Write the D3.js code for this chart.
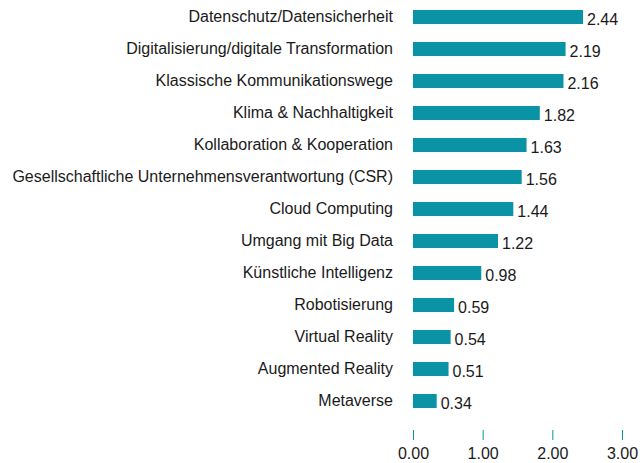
<!DOCTYPE html>
<html>
<head>
<meta charset="utf-8">
<script src="https://cdn.jsdelivr.net/npm/d3@7"></script>
<style>
  body { margin: 0; background: #fff; }
  text { font-family: "Liberation Sans", Arial, Helvetica, sans-serif; }
</style>
</head>
<body>
<div id="chart"></div>
<script>
const categories = [
  'Datenschutz/Datensicherheit',
  'Digitalisierung/digitale Transformation',
  'Klassische Kommunikationswege',
  'Klima & Nachhaltigkeit',
  'Kollaboration & Kooperation',
  'Gesellschaftliche Unternehmensverantwortung (CSR)',
  'Cloud Computing',
  'Umgang mit Big Data',
  'Künstliche Intelligenz',
  'Robotisierung',
  'Virtual Reality',
  'Augmented Reality',
  'Metaverse'
]
const values = [2.44, 2.19, 2.16, 1.82, 1.63, 1.56, 1.44, 1.22, 0.98, 0.59, 0.54, 0.51, 0.34]
const tickValues = [0, 1, 2, 3]

const fullWidth = 643,
  fullHeight = 463

const svg = d3.select('#chart')
  .append('svg')
    .attr('width', fullWidth)
    .attr('height', fullHeight)

const data = categories.map((c, i) => ({ name: c, value: values[i] }))

const xScale = d3.scaleLinear()
  .domain([0, 3])
  .range([413, 622])

const yScale = d3.scaleBand()
  .domain(categories)
  .range([1, 417])
  .paddingInner(0.5625)
  .paddingOuter(0.28125)

// bars
svg.selectAll('.bar')
  .data(data)
  .enter()
  .append('rect')
  .attr('class', 'bar')
  .attr('x', xScale(0))
  .attr('y', d => yScale(d.name))
  .attr('width', d => xScale(d.value) - xScale(0))
  .attr('height', yScale.bandwidth())
  .style('fill', '#0a93a5')

// value labels
svg.selectAll('.val')
  .data(data)
  .enter()
  .append('text')
  .attr('class', 'val')
  .attr('x', d => xScale(d.value) + 4)
  .attr('y', d => yScale(d.name) + yScale.bandwidth() / 2 + 2)
  .attr('dy', '0.35em')
  .style('font-size', '16px')
  .style('fill', '#1a1a1a')
  .text(d => d.value.toFixed(2))

// category labels
svg.selectAll('.cat')
  .data(data)
  .enter()
  .append('text')
  .attr('class', 'cat')
  .attr('x', xScale(0) - 20)
  .attr('y', d => yScale(d.name) + yScale.bandwidth() / 2 - 1)
  .attr('dy', '0.35em')
  .attr('text-anchor', 'end')
  .style('font-size', '16px')
  .style('fill', '#1a1a1a')
  .text(d => d.name)

// x axis
const axis = svg.append('g')
  .attr('transform', 'translate(0, 430)')
  .call(d3.axisBottom(xScale).tickValues(tickValues).tickSize(10).tickPadding(8).tickFormat(d3.format('.2f')))

axis.select('.domain').remove()
axis.selectAll('.tick line').style('stroke', '#0a93a5')
axis.selectAll('.tick text')
  .style('font-size', '16px')
  .style('fill', '#1a1a1a')
  .style('font-family', '"Liberation Sans", Arial, sans-serif')
</script>
</body>
</html>
